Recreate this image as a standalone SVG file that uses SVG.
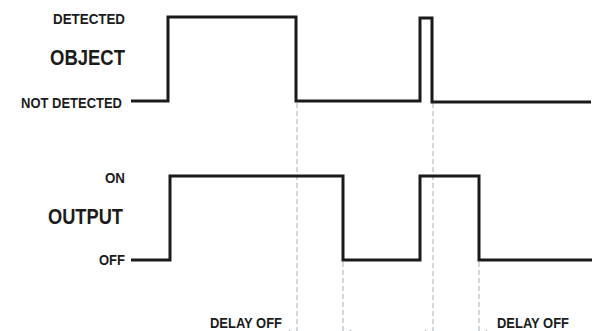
<svg xmlns="http://www.w3.org/2000/svg" width="592" height="331" viewBox="0 0 592 331">
<defs>
<style>
.lbl{font-family:"Liberation Sans",Arial,sans-serif;font-weight:bold;fill:#1c1c1c}
.s{font-size:15px}
.b{font-size:21.5px}
.wave{fill:none;stroke:#1a1a1a;stroke-width:3;stroke-linejoin:miter}
.dash{stroke:#9fb0bf;stroke-width:1;stroke-dasharray:5 3;fill:none}
.dim{stroke:#8a97a3;stroke-width:1;fill:none}
</style>
<marker id="ah" viewBox="0 0 10 10" refX="10" refY="5" markerWidth="7" markerHeight="7" orient="auto-start-reverse">
<path d="M0,1 L10,5 L0,9 z" fill="#555"/>
</marker>
</defs>
<rect width="592" height="331" fill="#ffffff"/>
<g id="labels">
<text class="lbl s" x="125" y="24" text-anchor="end" textLength="72" lengthAdjust="spacingAndGlyphs">DETECTED</text>
<text class="lbl b" x="125" y="65" text-anchor="end" textLength="75" lengthAdjust="spacingAndGlyphs">OBJECT</text>
<text class="lbl s" x="122" y="108" text-anchor="end" textLength="101" lengthAdjust="spacingAndGlyphs">NOT DETECTED</text>
<text class="lbl s" x="125" y="183" text-anchor="end" textLength="20" lengthAdjust="spacingAndGlyphs">ON</text>
<text class="lbl b" x="123" y="224" text-anchor="end" textLength="75" lengthAdjust="spacingAndGlyphs">OUTPUT</text>
<text class="lbl s" x="125" y="265" text-anchor="end" textLength="26" lengthAdjust="spacingAndGlyphs">OFF</text>
<text class="lbl s" x="210" y="328" textLength="72" lengthAdjust="spacingAndGlyphs">DELAY OFF</text>
<text class="lbl s" x="497" y="328" textLength="72" lengthAdjust="spacingAndGlyphs">DELAY OFF</text>
</g>
<g id="guides">
<line class="dash" x1="297" y1="103" x2="297" y2="331"/>
<line class="dash" x1="433" y1="103" x2="433" y2="331"/>
<line class="dash" x1="343" y1="262" x2="343" y2="331"/>
<line class="dash" x1="479" y1="262" x2="479" y2="331"/>
</g>
<g id="dimension-arrows">
<line class="dim" x1="287" y1="333" x2="296" y2="333" marker-end="url(#ah)"/>
<line class="dim" x1="353" y1="333" x2="344" y2="333" marker-end="url(#ah)"/>
<line class="dim" x1="423" y1="333" x2="432" y2="333" marker-end="url(#ah)"/>
<line class="dim" x1="489" y1="333" x2="480" y2="333" marker-end="url(#ah)"/>
</g>
<g id="object-wave">
<polyline class="wave" points="131,101 168,101 168,17 296,17 296,101 420,101 420,18 432,18 432,102 591,102"/>
</g>
<g id="output-wave">
<polyline class="wave" points="131,260 170,260 170,176 343,176 343,260 420,260 420,176 479,176 479,260 592,260"/>
</g>
</svg>
